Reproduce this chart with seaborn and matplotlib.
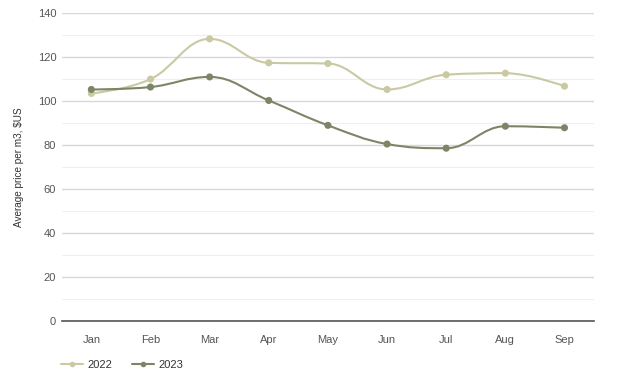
import matplotlib
matplotlib.use("Agg")
import matplotlib.pyplot as plt
from matplotlib.path import Path
from matplotlib.patches import PathPatch
from matplotlib.lines import Line2D
import seaborn as sns
import pandas as pd
import numpy as np

months = ["Jan", "Feb", "Mar", "Apr", "May", "Jun", "Jul", "Aug", "Sep"]
values_2022 = [103.5, 110.0, 128.3, 117.4, 117.1, 105.3, 112.0, 112.7, 106.8]
values_2023 = [105.3, 106.4, 111.0, 100.3, 89.0, 80.5, 78.6, 88.6, 87.9]
series_names = ["2022", "2023"]
colors = {"2022": "#c9c9a2", "2023": "#7d8567"}

sns.set_theme(style="white")
plt.rcParams['font.family'] = ['Liberation Sans', 'DejaVu Sans']

df = pd.DataFrame({
    "month": months * 2,
    "x": list(range(len(months))) * 2,
    "value": values_2022 + values_2023,
    "year": ["2022"] * len(months) + ["2023"] * len(months),
})

fig = plt.figure(figsize=(6.24, 3.86), dpi=100)
ax = fig.add_axes([0.099, 0.168, 0.853, 0.798])


def spline_path(xs, ys, smoothing=1.5):
    denom = smoothing + 1
    n = len(xs)
    verts = [(xs[0], ys[0])]
    codes = [Path.MOVETO]
    lc = [None] * n
    rc = [None] * n
    for i in range(1, n - 1):
        px, py = xs[i], ys[i]
        lx, ly = xs[i - 1], ys[i - 1]
        nx, ny = xs[i + 1], ys[i + 1]
        lcx = (smoothing * px + lx) / denom
        lcy = (smoothing * py + ly) / denom
        rcx = (smoothing * px + nx) / denom
        rcy = (smoothing * py + ny) / denom
        if rcx != lcx:
            corr = ((rcy - lcy) * (rcx - px)) / (rcx - lcx) + py - rcy
            lcy += corr
            rcy += corr
        if lcy > max(ly, py):
            lcy = max(ly, py); rcy = 2 * py - lcy
        elif lcy < min(ly, py):
            lcy = min(ly, py); rcy = 2 * py - lcy
        if rcy > max(ny, py):
            rcy = max(ny, py); lcy = 2 * py - rcy
        elif rcy < min(ny, py):
            rcy = min(ny, py); lcy = 2 * py - rcy
        lc[i] = (lcx, lcy)
        rc[i] = (rcx, rcy)
    for i in range(1, n):
        c1 = rc[i - 1] if rc[i - 1] is not None else (xs[i - 1], ys[i - 1])
        c2 = lc[i] if lc[i] is not None else (xs[i], ys[i])
        verts += [c1, c2, (xs[i], ys[i])]
        codes += [Path.CURVE4] * 3
    return Path(verts, codes)


# markers via seaborn
sns.scatterplot(data=df, x="x", y="value", hue="year", palette=colors,
                s=26, edgecolor="none", ax=ax, legend=False, zorder=4)

for name in series_names:
    sub = df[df["year"] == name]
    p = spline_path(sub["x"].to_numpy(dtype=float), sub["value"].to_numpy(dtype=float))
    ax.add_patch(PathPatch(p, facecolor="none", edgecolor=colors[name], lw=1.5, zorder=3))

ax.set_xlim(-0.5, len(months) - 0.5)
ax.set_ylim(0, 140)
ax.set_yticks(range(0, 141, 20))
ax.set_yticks(range(10, 140, 20), minor=True)
ax.set_xticks(range(len(months)))
ax.set_xticklabels(months)
ax.grid(axis="y", which="major", color="#d8d8d8", lw=1.0, zorder=0)
ax.grid(axis="y", which="minor", color="#efefef", lw=0.8, zorder=0)
ax.set_axisbelow(True)
for s in ["top", "right", "left"]:
    ax.spines[s].set_visible(False)
ax.spines["bottom"].set_color("#555555")
ax.spines["bottom"].set_linewidth(1.2)
ax.tick_params(axis="both", which="both", length=0, labelsize=8, colors="#555555")
ax.tick_params(axis="x", pad=10)
ax.tick_params(axis="y", pad=4)
ax.set_xlabel("")
ax.set_ylabel("Average price per m3, $US", fontsize=7.2, color="#333333", labelpad=10)

handles = [Line2D([0], [0], color=colors[n], lw=1.5, marker="o", markersize=4,
                  markeredgewidth=0) for n in series_names]
fig.legend(handles, series_names, loc="center left", bbox_to_anchor=(0.082, 0.055),
           ncol=2, frameon=False, fontsize=8, handlelength=2.0, columnspacing=1.7,
           handletextpad=0.4, labelcolor="#333333")

fig.savefig("out.png", dpi=100, facecolor="white")
